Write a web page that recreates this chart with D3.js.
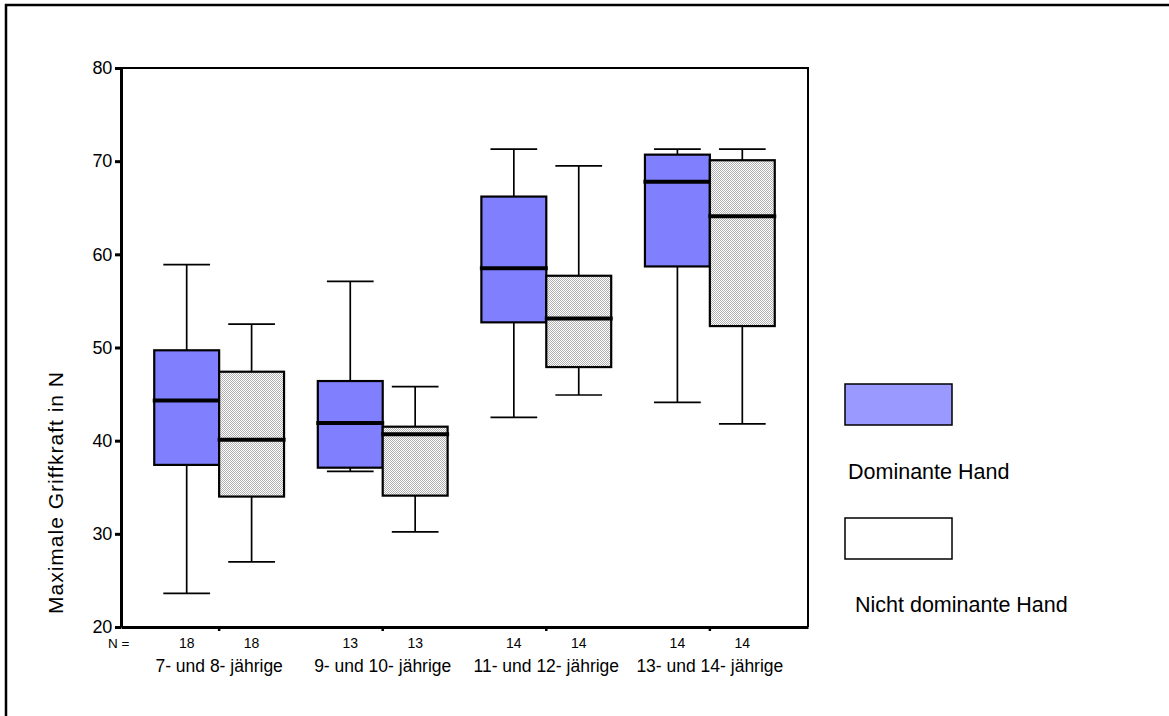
<!DOCTYPE html>
<html>
<head>
<meta charset="utf-8">
<script src="https://cdn.jsdelivr.net/npm/d3@7"></script>
<style>
  html, body { margin: 0; padding: 0; background: #fff; }
  svg { display: block; }
  text { font-family: "Liberation Sans", Arial, Helvetica, sans-serif; fill: #000; }
</style>
</head>
<body>
<svg id="chart" width="1169" height="716"></svg>
<script>
// Age groups and sample sizes
const groups = ["7- und 8- jährige", "9- und 10- jährige", "11- und 12- jährige", "13- und 14- jährige"];
const counts = [18, 13, 14, 14];
const hands = ["Dominante Hand", "Nicht dominante Hand"];
const yTicks = [20, 30, 40, 50, 60, 70, 80];

// Five-number summaries per group: [lower whisker, Q1, median, Q3, upper whisker]
const dominant = [
  [23.6, 37.4, 44.3, 49.7, 58.9],
  [36.7, 37.1, 41.9, 46.4, 57.1],
  [42.5, 52.7, 58.5, 66.2, 71.3],
  [44.1, 58.7, 67.8, 70.7, 71.3]
];
const nonDominant = [
  [27.0, 34.0, 40.1, 47.4, 52.5],
  [30.2, 34.1, 40.7, 41.5, 45.8],
  [44.9, 47.9, 53.1, 57.7, 69.5],
  [41.8, 52.3, 64.1, 70.1, 71.3]
];

const svg = d3.select("#chart");

// fine dotted hatch for the non-dominant boxes
const defs = svg.append("defs");
const pat = defs.append("pattern")
  .attr("id", "hatch").attr("patternUnits", "userSpaceOnUse")
  .attr("width", 2).attr("height", 2);
pat.append("rect").attr("width", 2).attr("height", 2).attr("fill", "#ffffff");
pat.append("rect").attr("x", 0).attr("y", 0).attr("width", 1).attr("height", 1).attr("fill", "#b0b0b0");
pat.append("rect").attr("x", 1).attr("y", 1).attr("width", 1).attr("height", 1).attr("fill", "#b0b0b0");

// outer frame
svg.append("rect")
  .attr("x", 6).attr("y", 5).attr("width", 1300).attr("height", 800)
  .attr("fill", "none").attr("stroke", "#000").attr("stroke-width", 2.5);

const plot = { left: 121, right: 808, top: 68, bottom: 627 };

const y = d3.scaleLinear().domain([20, 80]).range([plot.bottom, plot.top]);
const x = d3.scaleBand().domain(groups).range([plot.left, plot.right])
  .paddingInner(0).paddingOuter(0.1);
const xs = d3.scaleBand().domain(hands).range([0, x.bandwidth()])
  .paddingInner(0).paddingOuter(0.26);

// plot frame: top and right edges
svg.append("path")
  .attr("d", `M${plot.left},${plot.top}H${plot.right}V${plot.bottom}`)
  .attr("fill", "none").attr("stroke", "#000").attr("stroke-width", 2);

// y axis
const yAxis = d3.axisLeft(y).tickValues(yTicks).tickSize(6).tickPadding(3).tickSizeOuter(0);
const gy = svg.append("g").attr("transform", `translate(${plot.left},0)`).call(yAxis);
gy.attr("font-family", null).attr("font-size", null);
gy.select(".domain").attr("stroke-width", 3);
gy.selectAll(".tick line").attr("stroke-width", 3);
gy.selectAll(".tick text").attr("font-size", 18).style("letter-spacing", "-0.3px");

// x axis: small marks at group centres
const xAxis = d3.axisBottom(x).tickSize(4).tickFormat("").tickSizeOuter(0);
const gx = svg.append("g").attr("transform", `translate(0,${plot.bottom})`).call(xAxis);
gx.select(".domain").attr("stroke-width", 3);
gx.selectAll(".tick line").attr("stroke-width", 2.5);

// box plots
const series = [
  { key: hands[0], data: dominant, fill: "#8080ff" },
  { key: hands[1], data: nonDominant, fill: "url(#hatch)" }
];

series.forEach(s => {
  groups.forEach((g, i) => {
    const [lo, q1, med, q3, hi] = s.data[i];
    const x0 = x(g) + xs(s.key);
    const w = xs.bandwidth();
    const cx = x0 + w / 2;
    const capW = w * 0.72;
    const grp = svg.append("g");
    // whiskers
    grp.append("line").attr("x1", cx).attr("x2", cx).attr("y1", y(hi)).attr("y2", y(q3))
      .attr("stroke", "#000").attr("stroke-width", 1.7);
    grp.append("line").attr("x1", cx).attr("x2", cx).attr("y1", y(q1)).attr("y2", y(lo))
      .attr("stroke", "#000").attr("stroke-width", 1.7);
    grp.append("line").attr("x1", cx - capW / 2).attr("x2", cx + capW / 2).attr("y1", y(hi)).attr("y2", y(hi))
      .attr("stroke", "#000").attr("stroke-width", 1.7);
    grp.append("line").attr("x1", cx - capW / 2).attr("x2", cx + capW / 2).attr("y1", y(lo)).attr("y2", y(lo))
      .attr("stroke", "#000").attr("stroke-width", 1.7);
    // box
    grp.append("rect").attr("x", x0).attr("y", y(q3)).attr("width", w).attr("height", y(q1) - y(q3))
      .attr("fill", s.fill).attr("stroke", "#000").attr("stroke-width", 2.2);
    // median
    grp.append("line").attr("x1", x0 - 1.5).attr("x2", x0 + w + 1.5).attr("y1", y(med)).attr("y2", y(med))
      .attr("stroke", "#000").attr("stroke-width", 4);
  });
});

// N counts
svg.append("text").attr("x", 108).attr("y", 648).attr("font-size", 13.5).text("N =");
groups.forEach((g, i) => {
  hands.forEach(h => {
    svg.append("text")
      .attr("x", x(g) + xs(h) + xs.bandwidth() / 2).attr("y", 648)
      .attr("text-anchor", "middle").attr("font-size", 14).text(counts[i]);
  });
  svg.append("text")
    .attr("x", x(g) + x.bandwidth() / 2).attr("y", 672)
    .attr("text-anchor", "middle").attr("font-size", 17.5).text(g);
});

// y axis title
svg.append("text")
  .attr("transform", `translate(63,${(363 + 622) / 2}) rotate(-90)`)
  .attr("text-anchor", "middle").attr("font-size", 21).style("letter-spacing", "1px")
  .text("Maximale Griffkraft in N");

// legend
const legend = [
  { label: hands[0], fill: "#9999ff", boxY: 384, textX: 848, textY: 479 },
  { label: hands[1], fill: "#ffffff", boxY: 518, textX: 855, textY: 612 }
];
legend.forEach(l => {
  svg.append("rect").attr("x", 845).attr("y", l.boxY).attr("width", 107).attr("height", 41)
    .attr("fill", l.fill).attr("stroke", "#000").attr("stroke-width", 1.5);
  svg.append("text").attr("x", l.textX).attr("y", l.textY).attr("font-size", 21.5).text(l.label);
});
</script>
</body>
</html>
